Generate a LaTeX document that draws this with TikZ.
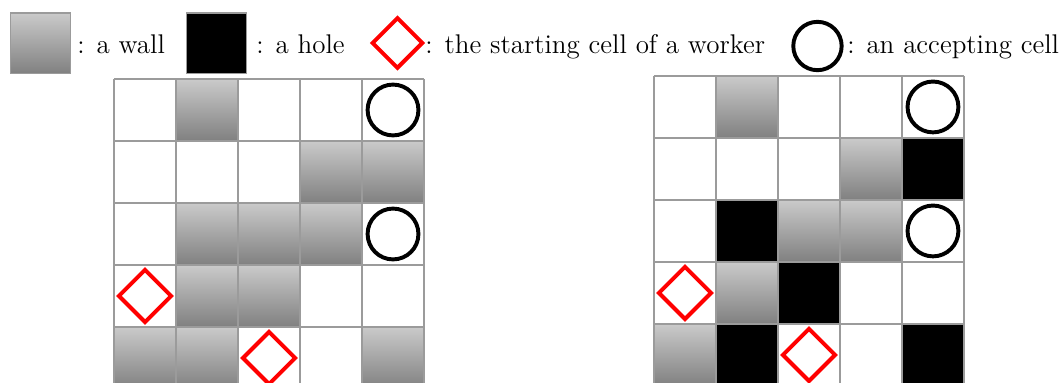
\documentclass[tikz,border=0pt]{standalone}
\usepackage{tikz}
\definecolor{walltop}{RGB}{202,202,202}
\definecolor{wallbot}{RGB}{128,128,128}
\definecolor{gridline}{RGB}{155,155,155}

\tikzset{
  wall/.style={top color=walltop, bottom color=wallbot, draw=gridline, line width=0.55pt},
  hole/.style={fill=black, draw=gridline, line width=0.55pt},
  startmark/.style={draw=red, line width=1.8pt},
  acceptmark/.style={draw=black, line width=1.8pt},
  legendtext/.style={anchor=base west, inner sep=0pt, font=\fontsize{12.4}{15}\selectfont},
}

\begin{document}
\begin{tikzpicture}
  \useasboundingbox (0,0) rectangle (17.113,6.177);
  % legend
  \fill[wall] (0.163,4.986) rectangle ++(0.98,0.98);
  \node[legendtext] (lwall) at (1.242,5.318) {: a wall};
  \fill[hole] (3.002,4.986) rectangle ++(0.98,0.98);
  \node[legendtext] (lhole) at (4.129,5.318) {: a hole};
  \draw[startmark] (6.411,5.484) +(-0.4,0) -- +(0,0.4) -- +(0.4,0) -- +(0,-0.4) -- cycle;
  \node[legendtext] (lstart) at (6.855,5.318) {: the starting cell of a worker};
  \draw[acceptmark] (13.185,5.435) circle (0.39);
  \node[legendtext] (laccept) at (13.661,5.318) {: an accepting cell};

  % left board (walls only)
  \begin{scope}[shift={(1.839,-0.097)}]
    \foreach \p in {(1,4),(3,3),(4,3),(1,2),(2,2),(3,2),(1,1),(2,1),(0,0),(1,0),(4,0)} { \fill[wall] \p rectangle ++(1,1); }
    \draw[gridline, line width=0.55pt] (0,0) grid (5,5);
    \foreach \x/\y in {4/4,4/2} { \draw[acceptmark] (\x+0.5,\y+0.5) circle (0.41); }
    \foreach \x/\y in {0/1,2/0} { \draw[startmark] (\x+0.5,\y+0.5) +(-0.42,0) -- +(0,0.42) -- +(0.42,0) -- +(0,-0.42) -- cycle; }
  \end{scope}

  % right board (walls and holes)
  \begin{scope}[shift={(10.548,-0.048)}]
    \foreach \p in {(1,4),(3,3),(2,2),(3,2),(1,1),(0,0)} { \fill[wall] \p rectangle ++(1,1); }
    \foreach \p in {(4,3),(1,2),(2,1),(1,0),(4,0)} { \fill[hole] \p rectangle ++(1,1); }
    \draw[gridline, line width=0.55pt] (0,0) grid (5,5);
    \foreach \x/\y in {4/4,4/2} { \draw[acceptmark] (\x+0.5,\y+0.5) circle (0.41); }
    \foreach \x/\y in {0/1,2/0} { \draw[startmark] (\x+0.5,\y+0.5) +(-0.42,0) -- +(0,0.42) -- +(0.42,0) -- +(0,-0.42) -- cycle; }
  \end{scope}
\end{tikzpicture}
\end{document}
